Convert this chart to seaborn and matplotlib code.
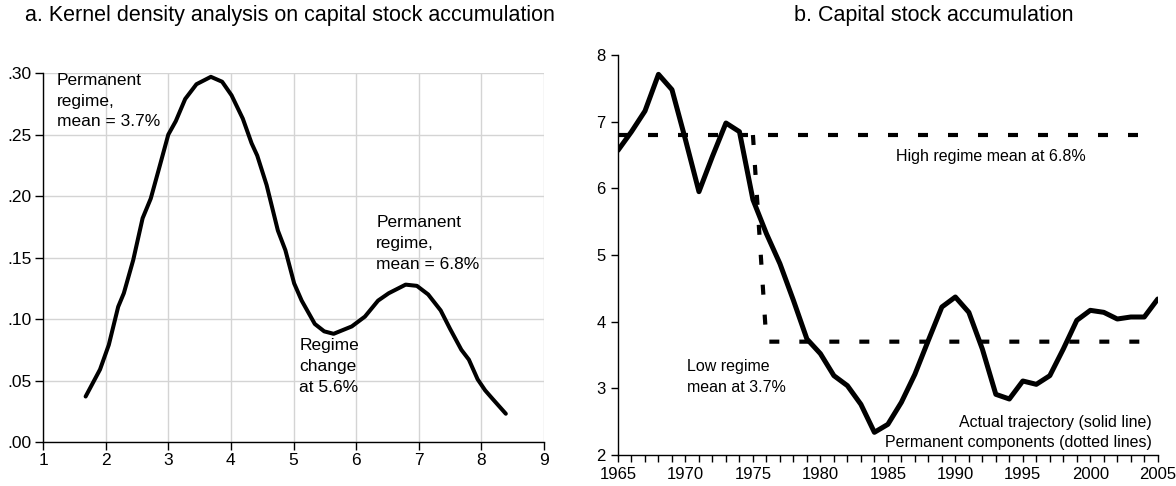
import matplotlib
matplotlib.use("Agg")
import matplotlib.pyplot as plt
from matplotlib.ticker import FuncFormatter, MultipleLocator
import pandas as pd
import seaborn as sns

# panel a: kernel density of capital stock accumulation
kd_x = [1.68, 1.91, 2.05, 2.20, 2.29, 2.44, 2.59, 2.72, 2.85, 3.00, 3.12, 3.27,
        3.45, 3.68, 3.86, 4.01, 4.19, 4.33, 4.42, 4.57, 4.75, 4.87, 5.01, 5.13,
        5.34, 5.49, 5.64, 5.93, 6.14, 6.35, 6.52, 6.79, 6.97, 7.15, 7.35, 7.50,
        7.68, 7.80, 7.94, 8.06, 8.18, 8.39]
kd_y = [0.037, 0.059, 0.079, 0.110, 0.121, 0.148, 0.182, 0.198, 0.222, 0.250,
        0.261, 0.279, 0.291, 0.297, 0.293, 0.282, 0.263, 0.243, 0.233, 0.209,
        0.172, 0.156, 0.129, 0.115, 0.096, 0.090, 0.088, 0.094, 0.102, 0.115,
        0.121, 0.128, 0.127, 0.120, 0.107, 0.092, 0.075, 0.067, 0.051, 0.042,
        0.035, 0.023]

# panel b: capital stock accumulation, 1965-2005
years = list(range(1965, 2006))
accum = [6.57, 6.85, 7.16, 7.71, 7.48, 6.73, 5.95, 6.48, 6.98, 6.85,
         5.83, 5.32, 4.87, 4.32, 3.74, 3.52, 3.19, 3.04, 2.76, 2.34,
         2.46, 2.79, 3.21, 3.72, 4.22, 4.37, 4.14, 3.59, 2.91, 2.84,
         3.11, 3.06, 3.19, 3.59, 4.02, 4.17, 4.14, 4.04, 4.07, 4.07, 4.34]
high_x = [1965, 2005]
high_y = [6.8, 6.8]
low_x = [1975, 1976, 2005]
low_y = [6.8, 3.7, 3.7]

sns.set_style("white")
plt.rcParams['font.family'] = ['Liberation Sans', 'DejaVu Sans']
plt.rcParams['text.color'] = 'black'
plt.rcParams['xtick.color'] = 'black'
plt.rcParams['ytick.color'] = 'black'

fig = plt.figure(figsize=(11.76, 4.86), dpi=100)
ax1 = fig.add_axes([0.0366, 0.0905, 0.426, 0.759])
ax2 = fig.add_axes([0.5255, 0.0638, 0.459, 0.823])

# --- panel a
sns.lineplot(x=kd_x, y=kd_y, ax=ax1, color="black", lw=2.9, sort=False)
ax1.set_xlim(1, 9)
ax1.set_ylim(0, 0.30)
ax1.xaxis.set_major_locator(MultipleLocator(1))
ax1.yaxis.set_major_locator(MultipleLocator(0.05))
ax1.yaxis.set_major_formatter(FuncFormatter(lambda v, p: ("%.2f" % v)[1:]))
ax1.grid(True, color="#d4d4d4", lw=1)
ax1.set_axisbelow(True)
for s in ["top", "right"]:
    ax1.spines[s].set_visible(False)
for s in ["left", "bottom"]:
    ax1.spines[s].set_color("black")
    ax1.spines[s].set_linewidth(1)
ax1.tick_params(direction="out", length=6, width=1, color="black", labelsize=12.5, pad=2,
                bottom=True, left=True)

ax1.text(1.22, 0.3, "Permanent\nregime,\nmean = 3.7%", va="top", ha="left",
         fontsize=12.5, linespacing=1.45)
ax1.text(6.32, 0.185, "Permanent\nregime,\nmean = 6.8%", va="top", ha="left",
         fontsize=12.5, linespacing=1.5)
ax1.text(5.09, 0.085, "Regime\nchange\nat 5.6%", va="top", ha="left",
         fontsize=12.5, linespacing=1.5)

# --- panel b
df = pd.DataFrame({"year": years, "accum": accum})
sns.lineplot(data=df, x="year", y="accum", ax=ax2, color="black", lw=3.6)
sns.lineplot(x=high_x, y=high_y, ax=ax2, color="black", lw=3, linestyle=(0, (2.4, 4.8)))
sns.lineplot(x=low_x, y=low_y, ax=ax2, color="black", lw=3, linestyle=(0, (2.4, 4.8)),
             sort=False)
ax2.set_xlim(1965, 2005)
ax2.set_ylim(2, 8)
ax2.xaxis.set_major_locator(MultipleLocator(5))
ax2.xaxis.set_minor_locator(MultipleLocator(1))
ax2.yaxis.set_major_locator(MultipleLocator(1))
ax2.set_xlabel("")
ax2.set_ylabel("")
for s in ["top", "right"]:
    ax2.spines[s].set_visible(False)
for s in ["left", "bottom"]:
    ax2.spines[s].set_color("black")
    ax2.spines[s].set_linewidth(1)
ax2.tick_params(which="both", direction="out", length=5, width=1, color="black",
                bottom=True, left=True)
ax2.tick_params(labelsize=12, pad=4)

ax2.text(1992.6, 6.48, "High regime mean at 6.8%", ha="center", va="center", fontsize=11.5)
ax2.text(1970.1, 3.17, "Low regime\nmean at 3.7%", ha="left", va="center", fontsize=11.5,
         linespacing=1.45)
ax2.text(2004.55, 2.34, "Actual trajectory (solid line)\nPermanent components (dotted lines)",
         ha="right", va="center", fontsize=11.5, linespacing=1.45)

fig.text(0.2466, 0.969, "a. Kernel density analysis on capital stock accumulation",
         ha="center", va="center", fontsize=15.5)
fig.text(0.794, 0.969, "b. Capital stock accumulation", ha="center", va="center",
         fontsize=15.5)

fig.savefig("out.png", dpi=100)
